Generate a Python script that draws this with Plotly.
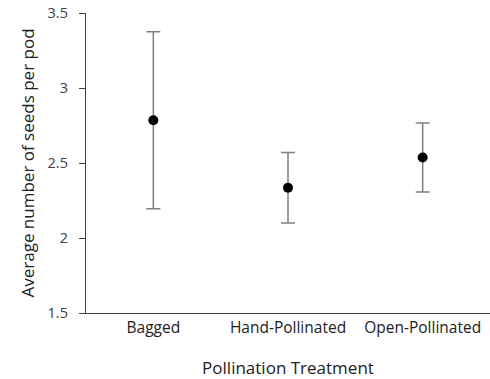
import plotly.graph_objects as go

categories = ["Bagged", "Hand-Pollinated", "Open-Pollinated"]
means = [2.785, 2.335, 2.537]
errors = [0.59, 0.235, 0.23]
y_ticks = [1.5, 2, 2.5, 3, 3.5]
y_tick_labels = ["1.5", "2", "2.5", "3", "3.5"]

fig = go.Figure(go.Scatter(
    x=categories, y=means, mode="markers",
    marker=dict(color="black", size=10),
    error_y=dict(type="data", array=errors, visible=True, color="#808080", thickness=1.5, width=7),
))

font = "Open Sans, Liberation Sans, sans-serif"
fig.update_layout(
    width=490, height=379,
    margin=dict(l=86, r=0, t=13, b=66),
    plot_bgcolor="white", paper_bgcolor="white",
    showlegend=False,
    font=dict(family=font, color="#404040", size=13),
)
fig.update_xaxes(
    type="category", range=[-0.5, 2.5],
    showline=True, linecolor="#404040", linewidth=1.3,
    showgrid=False, ticks="", tickfont=dict(size=15.5, color="#222"),
    title=dict(text="Pollination Treatment", font=dict(size=17, color="#222"), standoff=25),
)
fig.update_yaxes(
    range=[1.5, 3.5], tickvals=y_ticks, ticktext=y_tick_labels,
    showline=True, linecolor="#404040", linewidth=1.3,
    showgrid=False, zeroline=False, ticks="outside", ticklen=6, tickcolor="#404040",
    ticklabelstandoff=8,
    tickfont=dict(size=14.5, color="#404040"),
    title=dict(text="Average number of seeds per pod", font=dict(size=17, color="#222"), standoff=8),
)
fig.write_html("out.html", config={"displayModeBar": False},
               post_script="document.body.style.margin='0';document.body.style.padding='0';")
